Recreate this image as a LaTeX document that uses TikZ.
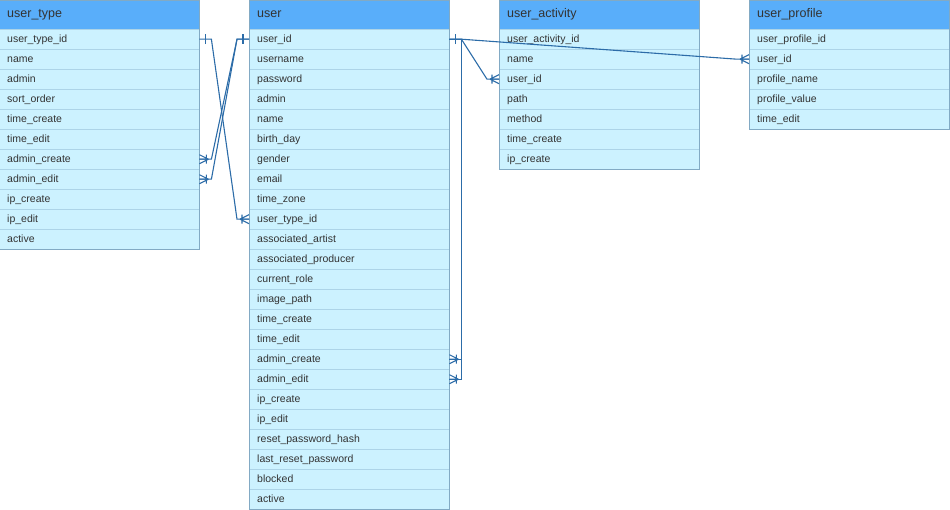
\documentclass[tikz,border=0pt]{standalone}
\usepackage{fontspec}
\setmainfont{Liberation Sans}
\definecolor{headblue}{RGB}{89,174,250}
\definecolor{rowcyan}{RGB}{204,242,255}
\definecolor{rowline}{RGB}{172,212,232}
\definecolor{tabline}{RGB}{130,170,196}
\definecolor{txtgray}{RGB}{51,51,51}
\definecolor{relblue}{RGB}{44,108,168}
\begin{document}
\begin{tikzpicture}[x=1pt,y=-1pt,
	head/.style={anchor=north west, fill=headblue, draw=tabline, text=txtgray,
		font=\fontsize{12.5}{14}\selectfont, text width=184pt, inner xsep=8pt,
		inner ysep=0pt, minimum height=29pt, text height=9pt, text depth=2.5pt},
	row/.style={anchor=north west, fill=rowcyan, draw=rowline, text=txtgray,
		font=\fontsize{10.5}{12}\selectfont, text width=184pt, inner xsep=8pt,
		inner ysep=0pt, minimum height=20pt, text height=7.5pt, text depth=1.5pt},
	rel/.style={draw=relblue, line width=1.1pt},
	one/.pic={\draw[rel, line width=1.5pt] (-6,-5) -- (-6,5);},
	many/.pic={\draw[rel] (-9,0) -- (0,-4.5) (-9,0) -- (0,0) (-9,0) -- (0,4.5) (-7,-4.5) -- (-7,4.5);}]
	\useasboundingbox (0,0) rectangle (950,510);
	% user_type
	\node[head] (uth) at (-1,0) {user\_type};
	\node[row] (ut1) at (-1,29) {user\_type\_id};
	\node[row] (ut2) at (-1,49) {name};
	\node[row] (ut3) at (-1,69) {admin};
	\node[row] (ut4) at (-1,89) {sort\_order};
	\node[row] (ut5) at (-1,109) {time\_create};
	\node[row] (ut6) at (-1,129) {time\_edit};
	\node[row] (ut7) at (-1,149) {admin\_create};
	\node[row] (ut8) at (-1,169) {admin\_edit};
	\node[row] (ut9) at (-1,189) {ip\_create};
	\node[row] (ut10) at (-1,209) {ip\_edit};
	\node[row] (ut11) at (-1,229) {active};
	\draw[tabline] (uth.north west) rectangle (ut11.south east);
	% user
	\node[head] (uh) at (249,0) {user};
	\node[row] (u1) at (249,29) {user\_id};
	\node[row] (u2) at (249,49) {username};
	\node[row] (u3) at (249,69) {password};
	\node[row] (u4) at (249,89) {admin};
	\node[row] (u5) at (249,109) {name};
	\node[row] (u6) at (249,129) {birth\_day};
	\node[row] (u7) at (249,149) {gender};
	\node[row] (u8) at (249,169) {email};
	\node[row] (u9) at (249,189) {time\_zone};
	\node[row] (u10) at (249,209) {user\_type\_id};
	\node[row] (u11) at (249,229) {associated\_artist};
	\node[row] (u12) at (249,249) {associated\_producer};
	\node[row] (u13) at (249,269) {current\_role};
	\node[row] (u14) at (249,289) {image\_path};
	\node[row] (u15) at (249,309) {time\_create};
	\node[row] (u16) at (249,329) {time\_edit};
	\node[row] (u17) at (249,349) {admin\_create};
	\node[row] (u18) at (249,369) {admin\_edit};
	\node[row] (u19) at (249,389) {ip\_create};
	\node[row] (u20) at (249,409) {ip\_edit};
	\node[row] (u21) at (249,429) {reset\_password\_hash};
	\node[row] (u22) at (249,449) {last\_reset\_password};
	\node[row] (u23) at (249,469) {blocked};
	\node[row] (u24) at (249,489) {active};
	\draw[tabline] (uh.north west) rectangle (u24.south east);
	% user_activity
	\node[head] (uah) at (499,0) {user\_activity};
	\node[row] (ua1) at (499,29) {user\_activity\_id};
	\node[row] (ua2) at (499,49) {name};
	\node[row] (ua3) at (499,69) {user\_id};
	\node[row] (ua4) at (499,89) {path};
	\node[row] (ua5) at (499,109) {method};
	\node[row] (ua6) at (499,129) {time\_create};
	\node[row] (ua7) at (499,149) {ip\_create};
	\draw[tabline] (uah.north west) rectangle (ua7.south east);
	% user_profile
	\node[head] (uph) at (749,0) {user\_profile};
	\node[row] (up1) at (749,29) {user\_profile\_id};
	\node[row] (up2) at (749,49) {user\_id};
	\node[row] (up3) at (749,69) {profile\_name};
	\node[row] (up4) at (749,89) {profile\_value};
	\node[row] (up5) at (749,109) {time\_edit};
	\draw[tabline] (uph.north west) rectangle (up5.south east);
	% relations
	\draw[rel] (ut1.east) -- ++(12,0) -- ([xshift=-12pt]u10.west) -- (u10.west);
	\pic[rotate=180] at (ut1.east) {one};
	\pic at (u10.west) {many};
	\draw[rel] (u1.west) -- ++(-12,0) -- ([xshift=12pt]ut7.east) -- (ut7.east);
	\draw[rel] (u1.west) -- ++(-12,0) -- ([xshift=12pt]ut8.east) -- (ut8.east);
	\pic at (u1.west) {one};
	\pic[rotate=180] at (ut7.east) {many};
	\pic[rotate=180] at (ut8.east) {many};
	\draw[rel] (u1.east) -- ++(12,0) -- ([xshift=-12pt]ua3.west) -- (ua3.west);
	\draw[rel] (u1.east) -- ++(12,0) -- ([xshift=-12pt]up2.west) -- (up2.west);
	\draw[rel] (u1.east) -- ++(12,0) |- (u17.east);
	\draw[rel] (u1.east) -- ++(12,0) |- (u18.east);
	\pic[rotate=180] at (u1.east) {one};
	\pic at (ua3.west) {many};
	\pic at (up2.west) {many};
	\pic[rotate=180] at (u17.east) {many};
	\pic[rotate=180] at (u18.east) {many};
\end{tikzpicture}
\end{document}
